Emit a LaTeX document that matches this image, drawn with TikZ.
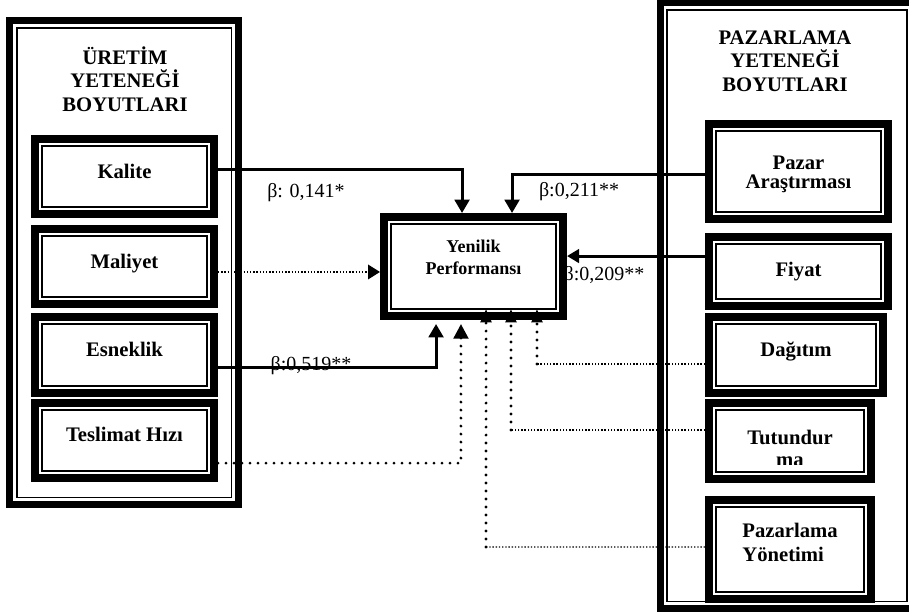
\documentclass[tikz,border=0pt]{standalone}
\usepackage{fontspec}
\setmainfont{Liberation Serif}
\usepackage{tikz}
\usetikzlibrary{positioning,arrows.meta,calc}

\tikzset{
  boxtext/.style={align=center, inner sep=0pt, font=\fontsize{15.5}{18}\selectfont\bfseries},
  dimbox/.style={boxtext, draw, fill=white, line width=6pt,
    path picture={\draw[line width=1.1pt]
      ([shift={(5.25pt,-5.25pt)}]path picture bounding box.north west) rectangle
      ([shift={(-5.25pt,5.25pt)}]path picture bounding box.south east);}},
  dimframe/.style={draw, fill=white, line width=5.25pt, inner sep=0pt,
    path picture={\draw[line width=1.2pt]
      ([shift={(5.4pt,-5.4pt)}]path picture bounding box.north west) rectangle
      ([shift={(-5.4pt,5.4pt)}]path picture bounding box.south east);}},
  framehead/.style={align=center, font=\fontsize{15.5}{17.6}\selectfont\bfseries},
  coef/.style={inner sep=0pt, font=\fontsize{15}{18}\selectfont},
  lifted/.style={text depth=8pt},
  strongarrow/.style={line width=2.25pt, -{Triangle[length=10pt,width=11pt]}},
  faintline/.style={line width=1pt, dash pattern=on 1pt off 1.4pt},
  dotline/.style={line width=2.3pt, line cap=round, dash pattern=on 0pt off 6pt},
  smalltip/.style={-{Triangle[length=10pt,width=8pt]}}
}

\begin{document}
\begin{tikzpicture}[x=0.75pt,y=-0.75pt]
  \clip (0,0) rectangle (909,611);

  \node[dimframe, minimum width=171.75pt, minimum height=363pt] (uretim) at (124,262.5) {};
  \node[dimframe, minimum width=190.5pt, minimum height=454.5pt] (pazarlama) at (787,305.5) {};
  \node[framehead] (uretimbas) at (125,79) {ÜRETİM\\YETENEĞİ\\BOYUTLARI};
  \node[framehead] (pazarlamabas) at (785,61) {PAZARLAMA\\YETENEĞİ\\BOYUTLARI};

  \node[coef] (b141) at (306,193) {β: 0,141*};
  \node[coef] (b211) at (579,192) {β:0,211**};
  \node[coef] (b209) at (604,276) {β:0,209**};
  \node[coef] (b519) at (311,366) {β:0,519**};

  \node[dimbox, lifted, minimum width=134.25pt, minimum height=56.25pt] (kalite) at (124.5,176.5) {Kalite};
  \node[dimbox, lifted, minimum width=134.25pt, minimum height=56.25pt] (maliyet) at (124.5,266.5) {Maliyet};
  \node[dimbox, lifted, minimum width=134.25pt, minimum height=57pt] (esneklik) at (124.5,355) {Esneklik};
  \node[dimbox, text depth=10pt, minimum width=134.25pt, minimum height=56.25pt] (teslimat) at (124.5,440.5) {Teslimat Hızı};

  \node[dimbox, text depth=14pt, font=\fontsize{13.5}{16.5}\selectfont\bfseries,
        minimum width=134.25pt, minimum height=74.25pt] (yenilik) at (473.5,266.5) {Yenilik\\Performansı};

  \node[dimbox, text height=29pt, minimum width=134.25pt, minimum height=71.25pt] (pazar) at (798.5,171.5) {Pazar\\[-3.75pt]Araştırması};
  \node[dimbox, minimum width=134.25pt, minimum height=51.75pt] (fiyat) at (798.5,271.5) {Fiyat};
  \node[dimbox, lifted, minimum width=130.5pt, minimum height=57pt] (dagitim) at (796,355) {Dağıtım};
  \node[dimbox, minimum width=121.5pt, minimum height=57pt] (tutundurma) at (790,441) {};
  \begin{scope}
    \clip (tutundurma.north west) rectangle ([yshift=14.25pt]tutundurma.south east);
    \node[boxtext] (tutundurmayazi) at (790,448) {Tutundur\\[-1.5pt]ma};
  \end{scope}
  \node[dimbox, align=left, text depth=11pt, minimum width=121.5pt, minimum height=74.25pt] (pazyon) at (790,549.5) {Pazarlama\\Yönetimi};

  \draw[strongarrow] ([yshift=5pt]kalite.east) -| ([xshift=-8.6pt]yenilik.north);
  \draw[strongarrow] ([yshift=-2.6pt]pazar.west) -| ([xshift=28.9pt]yenilik.north);
  \draw[strongarrow, -{Triangle[length=9pt,width=10pt]}] ([yshift=11.6pt]fiyat.west) -- ([yshift=11.6pt]fiyat.west -| yenilik.east);
  \draw[faintline, -{Triangle[length=9pt,width=11pt]}] ([yshift=-4.1pt]maliyet.east) -- ([yshift=-4.1pt]yenilik.west);
  \draw[strongarrow] ([yshift=-9pt]esneklik.east) -| ([xshift=-28.1pt,yshift=-3pt]yenilik.south);
  \draw[dotline, -{Triangle[length=11pt,width=11pt]}] ([yshift=-16.9pt]teslimat.east) -| ([xshift=-9.4pt,yshift=-3pt]yenilik.south);

  \coordinate (dagkose) at (537,364);
  \coordinate (tutkose) at (511,430);
  \coordinate (pazkose) at (486,547);
  \draw[faintline] ([yshift=-6.75pt]dagitim.west) -- (dagkose);
  \draw[faintline] ([yshift=8.25pt]tutundurma.west) -- (tutkose);
  \draw[faintline] ([yshift=1.9pt]pazyon.west) -- (pazkose);
  \draw[dotline, smalltip] (dagkose) -- ([xshift=47.6pt,yshift=8.25pt]yenilik.south);
  \draw[dotline, smalltip] (tutkose) -- ([xshift=28.1pt,yshift=8.25pt]yenilik.south);
  \draw[dotline, smalltip] (pazkose) -- ([xshift=9.4pt,yshift=8.25pt]yenilik.south);
\end{tikzpicture}
\end{document}
